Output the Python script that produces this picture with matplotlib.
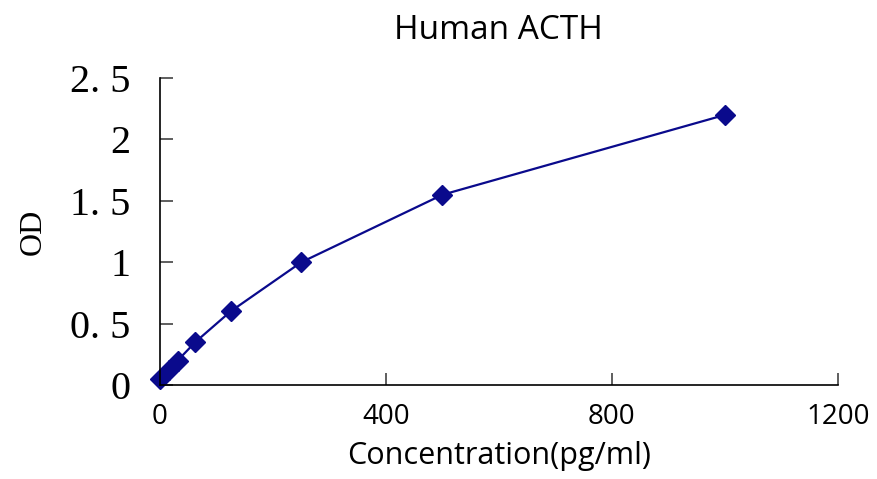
import matplotlib
matplotlib.use("Agg")
import matplotlib.pyplot as plt

# standard curve readings
conc = [0, 15.6, 31.25, 62.5, 125, 250, 500, 1000]
od = [0.05, 0.12, 0.2, 0.35, 0.6, 1.0, 1.55, 2.2]

x_ticks = [0, 400, 800, 1200]
y_ticks = [0, 0.5, 1, 1.5, 2, 2.5]
y_tick_labels = ["0", "0. 5", "1", "1. 5", "2", "2. 5"]

fig = plt.figure(figsize=(8.77, 4.79), dpi=100)
ax = fig.add_axes([0.1824, 0.196, 0.773, 0.641])

ax.plot(conc, od, color="#0a0a8c", linewidth=1.6, marker="D",
        markersize=10.5, markerfacecolor="#0a0a8c", markeredgecolor="#0a0a8c",
        clip_on=False)

ax.set_xlim(0, 1200)
ax.set_ylim(0, 2.5)
ax.spines["top"].set_visible(False)
ax.spines["right"].set_visible(False)
ax.spines["left"].set_linewidth(1.2)
ax.spines["bottom"].set_linewidth(1.2)

ax.set_xticks(x_ticks)
ax.set_xticklabels([str(t) for t in x_ticks], fontsize=20, family="Open Sans")
ax.set_yticks(y_ticks)
ax.set_yticklabels(y_tick_labels, fontsize=29, family="Liberation Serif")
ax.tick_params(axis="both", direction="in", length=9, width=1.1, color="#333333")
ax.tick_params(axis="x", pad=13)
ax.tick_params(axis="y", pad=21)

ax.set_title("Human ACTH", fontsize=24, family="Open Sans", pad=28)
ax.set_xlabel("Concentration(pg/ml)", fontsize=22, family="Open Sans", labelpad=7)
ax.set_ylabel("OD", fontsize=23, family="Liberation Serif", labelpad=16)

fig.savefig("out.png", dpi=100)
